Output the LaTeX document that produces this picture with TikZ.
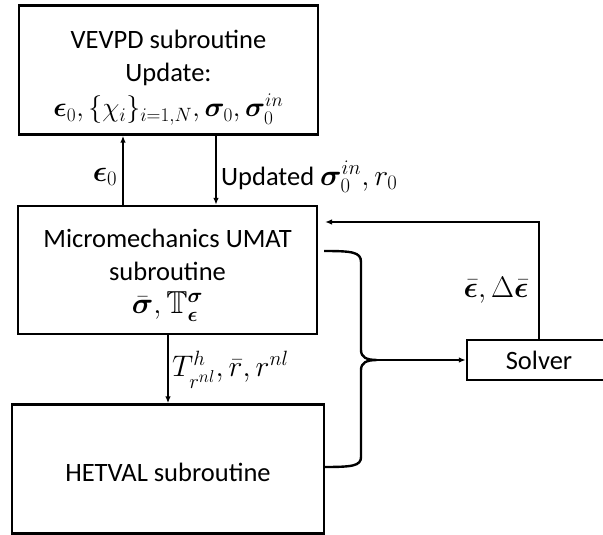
\documentclass[tikz,border=0pt]{standalone}
\usepackage{amssymb}
\usepackage{bm}
\usepackage{graphicx}
\usepackage{fontspec}
\setmainfont{Carlito}
\newcommand\mymath[2][1.2]{\scalebox{#1}{$#2$}}
\usetikzlibrary{arrows.meta,calc}
\begin{document}
\begin{tikzpicture}[x=1bp,y=-1bp,
  font=\fontsize{26.6}{33}\selectfont,
  box/.style={draw=black, line width=2.4bp, align=center, inner sep=0pt},
  arr/.style={line width=1.6bp, -{Latex[length=7bp,width=5.5bp]}},
  brace/.style={line width=2.4bp, line join=round},
  lbl/.style={inner sep=0pt}]
\useasboundingbox (0,0) rectangle (603,535);
\fill[white] (0,0) rectangle (603,535);
\node[box, minimum width=299bp, minimum height=129bp] (vevpd) at (168.5,70)
  {\rule{0pt}{33bp}VEVPD subroutine\\Update:\\[3bp]\mymath[1.12]{\bm{\epsilon}_0,\{\chi_i\}_{i=1,N},\bm{\sigma}_0,\bm{\sigma}_0^{in}}};
\node[box, minimum width=299bp, minimum height=128bp] (micro) at (167.5,270)
  {\rule{0pt}{29bp}Micromechanics UMAT\\subroutine\\[0bp]\mymath{\bar{\bm{\sigma}},\mathbb{T}^{\bm{\sigma}}_{\bm{\epsilon}}}};
\node[box, minimum width=312bp, minimum height=129bp] (hetval) at (168,469)
  {\rule{0pt}{26bp}HETVAL subroutine};
\begin{scope}
\clip (0,0) rectangle (603,535);
\node[box, minimum width=144bp, minimum height=40bp] (solver) at (539,360) {Solver};
\end{scope}
% coordinates
\coordinate (xa) at (123,0);
\coordinate (xb) at (216,0);
\coordinate (xc) at (168,0);
\coordinate (fb) at (325,222);
\coordinate (bt) at (324,251);
\coordinate (bb) at (324,467);
\coordinate (tip) at (377,360);
\coordinate (stub) at (395,360);
% vertical connectors
\draw[arr] (xa |- micro.north) -- (xa |- vevpd.south);
\draw[arr] (xb |- vevpd.south) -- (xb |- micro.north);
\draw[arr] (xc |- micro.south) -- (xc |- hetval.north);
% feedback
\draw[arr] (solver.north) -- (solver.north |- fb) -- (fb);
% brace
\draw[brace] (bt) .. controls (352,251) and (361,252) .. (361,262)
  -- (361,350) .. controls (361,357) and (366,360) .. (tip)
  .. controls (366,360) and (361,363) .. (361,370)
  -- (361,457) .. controls (361,466) and (352,467) .. (bb);
\draw[brace] (tip) -- (stub);
\draw[arr] (stub) -- (solver.west);
% labels
\node[lbl] (l1) at (105,177) {\mymath{\bm{\epsilon}_0}};
\node[lbl, anchor=west] (l2) at (221,177) {Updated \mymath{\bm{\sigma}_0^{in}, r_0}};
\node[lbl, anchor=west] (l3) at (172,370) {\mymath{T^{h}_{r^{nl}},\bar{r},r^{nl}}};
\node[lbl] (l4) at (496,290) {\mymath{\bar{\bm{\epsilon}},\Delta\bar{\bm{\epsilon}}}};
\end{tikzpicture}
\end{document}
